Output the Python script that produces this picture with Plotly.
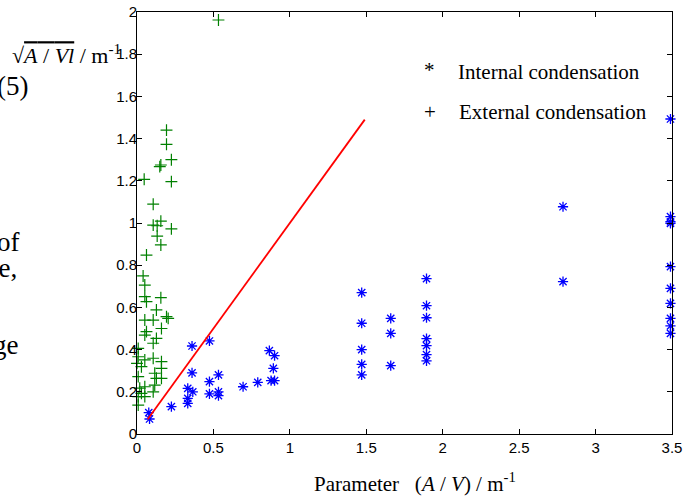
import plotly.graph_objects as go

# Internal condensation (blue asterisks)
int_x = [0.077, 0.082, 0.225, 0.332, 0.365, 0.332, 0.332, 0.36, 0.474, 0.36, 0.474, 0.533, 0.474, 0.533, 0.533,
         0.694, 0.79, 0.866, 0.9, 0.892, 0.877, 0.9,
         1.47, 1.47, 1.47, 1.47, 1.47,
         1.66, 1.66, 1.66,
         1.894, 1.894, 1.894, 1.894, 1.894, 1.894, 1.894,
         2.787, 2.787,
         3.49, 3.49, 3.49, 3.49, 3.49, 3.49, 3.49, 3.49, 3.49, 3.49]
int_y = [0.101, 0.071, 0.13, 0.216, 0.2, 0.169, 0.145, 0.417, 0.441, 0.29, 0.248, 0.28, 0.19, 0.2, 0.182,
         0.224, 0.245, 0.395, 0.371, 0.311, 0.253, 0.253,
         0.67, 0.525, 0.40, 0.33, 0.28,
         0.548, 0.477, 0.324,
         0.736, 0.608, 0.551, 0.452, 0.419, 0.376, 0.347,
         1.077, 0.722,
         1.493, 1.03, 1.006, 0.998, 0.793, 0.69, 0.619, 0.548, 0.512, 0.477]

# External condensation (green crosses)
ext_x = [0.533,
         0.193, 0.193, 0.225, 0.156, 0.149, 0.047, 0.225, 0.106, 0.106, 0.156, 0.225, 0.132, 0.132, 0.156, 0.062,
         0.04, 0.051, 0.051, 0.062, 0.156, 0.127, 0.193, 0.204, 0.051, 0.106, 0.16, 0.062, 0.051, 0.127, 0.106,
         0.008, 0.008, 0.106, 0.16, 0.051, 0.0, 0.029, 0.16, 0.116, 0.127, 0.16, 0.008, 0.116, 0.051, 0.018,
         0.029, 0.008, 0.008, 0.051, 0.106]
ext_y = [1.962,
         1.44, 1.373, 1.30, 1.275, 1.267, 1.207, 1.196, 1.089, 0.99, 1.009, 0.972, 0.987, 0.938, 0.896, 0.848,
         0.749, 0.706, 0.651, 0.627, 0.646, 0.588, 0.556, 0.548, 0.54, 0.54, 0.5, 0.485, 0.469, 0.453, 0.43,
         0.406, 0.366, 0.359, 0.343, 0.351, 0.335, 0.319, 0.311, 0.288, 0.264, 0.264, 0.272, 0.232, 0.224, 0.217,
         0.193, 0.177, 0.137, 0.177, 0.2]

# Reference line
line_x = [0.07, 1.49]
line_y = [0.07, 1.49]

x_ticks = [0, 0.5, 1, 1.5, 2, 2.5, 3, 3.5]
x_tick_labels = ["0", "0.5", "1", "1.5", "2", "2.5", "3", "3.5"]
y_ticks = [0, 0.2, 0.4, 0.6, 0.8, 1, 1.2, 1.4, 1.6, 1.8, 2]
y_tick_labels = ["0", "0.2", "0.4", "0.6", "0.8", "1", "1.2", "1.4", "1.6", "1.8", "2"]

fig = go.Figure()
fig.add_trace(go.Scatter(x=ext_x, y=ext_y, mode="markers", cliponaxis=False,
                         marker=dict(symbol="cross-thin-open", size=8.5, color="#008000",
                                     line=dict(color="#008000", width=1.2))))
fig.add_trace(go.Scatter(x=int_x, y=int_y, mode="markers", cliponaxis=False,
                         marker=dict(symbol="asterisk-open", size=8.5, color="#0000ff",
                                     line=dict(color="#0000ff", width=1.3))))
fig.add_trace(go.Scatter(x=line_x, y=line_y, mode="lines",
                         line=dict(color="#ff0000", width=1.8)))

serif = "Liberation Serif, Times New Roman, serif"
tickfont = dict(family="Liberation Sans, Arial, sans-serif", size=15, color="black")

fig.update_layout(
    width=694, height=497,
    margin=dict(l=137, r=22, t=12, b=63, autoexpand=False),
    paper_bgcolor="white", plot_bgcolor="white",
    showlegend=False,
    xaxis=dict(range=[0, 3.5], tickvals=x_ticks, ticktext=x_tick_labels, automargin=False,
               showgrid=False, zeroline=False, showline=True, linecolor="black", linewidth=1,
               mirror="ticks", ticks="inside", ticklen=5, tickcolor="black", tickfont=tickfont),
    yaxis=dict(range=[0, 2], tickvals=y_ticks, ticktext=y_tick_labels, automargin=False,
               showgrid=False, zeroline=False, showline=True, linecolor="black", linewidth=1,
               mirror="ticks", ticks="inside", ticklen=5, tickcolor="black", tickfont=tickfont,
               ticklabelstandoff=-4),
)

annots = [
    # x-axis title
    dict(x=0.52, y=-0.114, xref="paper", yref="paper", xanchor="center", yanchor="middle",
         text="Parameter &nbsp;&nbsp;(<i>A</i> / <i>V</i>) / m<sup>-1</sup>",
         font=dict(family=serif, size=21, color="black")),
    # y-axis title (top-left)
    dict(x=-0.238, y=0.9, xref="paper", yref="paper", xanchor="left", yanchor="middle",
         text="√<span style='text-decoration:overline'><i>A</i> / <i>Vl</i></span> / m<sup>-1</sup>",
         font=dict(family=serif, size=22, color="black")),
    # legend
    dict(x=0.547, y=0.862, xref="paper", yref="paper", xanchor="center", yanchor="middle",
         text="*", font=dict(family=serif, size=21, color="black")),
    dict(x=0.597, y=0.858, xref="paper", yref="paper", xanchor="left", yanchor="middle",
         text="Internal condensation", font=dict(family=serif, size=21, color="black")),
    dict(x=0.547, y=0.763, xref="paper", yref="paper", xanchor="center", yanchor="middle",
         text="+", font=dict(family=serif, size=21, color="black")),
    dict(x=0.598, y=0.763, xref="paper", yref="paper", xanchor="left", yanchor="middle",
         text="External condensation", font=dict(family=serif, size=21, color="black")),
]

# stray body text from the surrounding document (cropped at the left edge)
stray = [("(5)", 30, 86), ("of", 22, 242), ("pe,", 19, 268), ("ge", 21, 345)]
for txt, right_px, cy in stray:
    annots.append(dict(x=(right_px - 137.5) / 535, y=(434 - cy) / 422, xref="paper", yref="paper",
                       xanchor="right", yanchor="middle", text=txt,
                       font=dict(family=serif, size=27, color="black")))

for a in annots:
    a["showarrow"] = False
fig.update_layout(annotations=annots)

fig.write_html("out.html", config={"displayModeBar": False},
               post_script="document.body.style.margin='0';")
